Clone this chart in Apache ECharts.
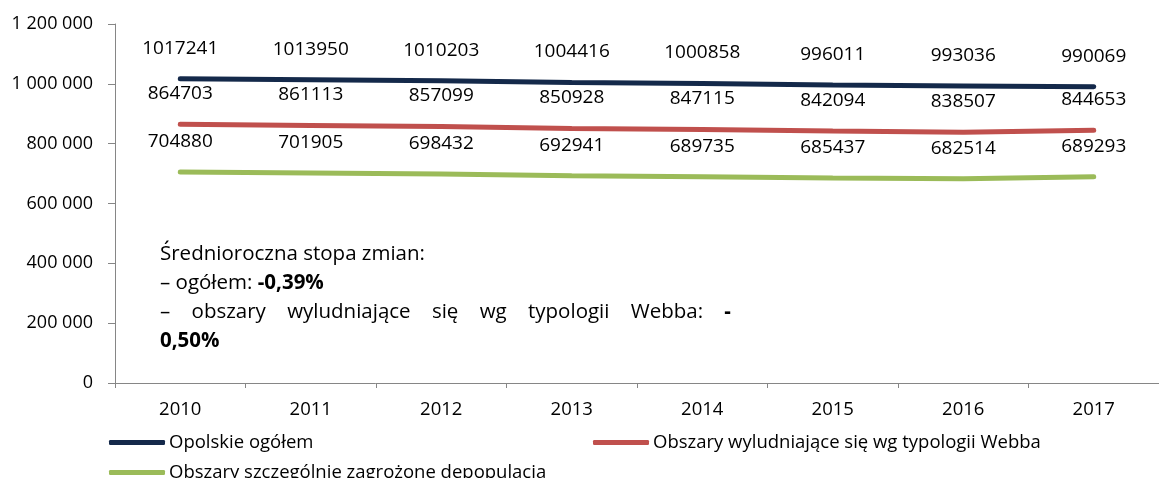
<!DOCTYPE html>
<html>
<head>
<meta charset="utf-8">
<script src="https://cdn.jsdelivr.net/npm/echarts@6/dist/echarts.min.js"></script>
<style>
  html, body { margin: 0; padding: 0; background: #fff; }
  #main { width: 1159px; height: 478px; }
</style>
</head>
<body>
<div id="main"></div>
<script>
// lata
var years = ['2010', '2011', '2012', '2013', '2014', '2015', '2016', '2017'];

// ludność
var opolskie = [1017241, 1013950, 1010203, 1004416, 1000858, 996011, 993036, 990069];
var webba = [864703, 861113, 857099, 850928, 847115, 842094, 838507, 844653];
var depopulacja = [704880, 701905, 698432, 692941, 689735, 685437, 682514, 689293];

var seriesNames = ['Opolskie ogółem', 'Obszary wyludniające się wg typologii Webba', 'Obszary szczególnie zagrożone depopulacją'];
var colors = ['#14294a', '#c0504d', '#9bbb59'];

var font = '"Open Sans", "Noto Sans", sans-serif';

function makeSeries(name, data, color) {
    return {
        name: name,
        type: 'line',
        data: data,
        symbol: 'circle',
        symbolSize: 0,
        showSymbol: true,
        lineStyle: { width: 5, color: color, cap: 'round' },
        itemStyle: { color: color },
        label: {
            show: true,
            position: 'top',
            distance: 21,
            color: '#000',
            fontSize: 19,
            fontFamily: font
        },
        emphasis: { disabled: true }
    };
}

function legendAt(left, top, name) {
    return {
        left: left,
        top: top,
        data: [name],
        icon: 'roundRect',
        itemWidth: 56,
        itemHeight: 5,
        itemGap: 0,
        textStyle: { fontSize: 18.5, color: '#000', fontFamily: font, padding: [0, 0, 0, -1] }
    };
}

var option = {
    backgroundColor: '#fff',
    animation: false,
    textStyle: { fontFamily: font },
    grid: { left: 115, right: -17, top: 24, bottom: 95 },
    xAxis: {
        type: 'category',
        data: years,
        boundaryGap: true,
        axisLine: { lineStyle: { color: '#868686', width: 1 } },
        axisTick: { show: true, length: 5, lineStyle: { color: '#868686' } },
        axisLabel: { color: '#000', fontSize: 18.5, margin: 17, fontFamily: font }
    },
    yAxis: {
        type: 'value',
        min: 0,
        max: 1200000,
        interval: 200000,
        axisLine: { show: true, lineStyle: { color: '#868686', width: 1 } },
        axisTick: { show: true, length: 7, lineStyle: { color: '#868686' } },
        splitLine: { show: false },
        axisLabel: {
            color: '#000',
            fontSize: 18,
            margin: 22,
            fontFamily: font,
            formatter: function (v) {
                return String(v).replace(/\B(?=(\d{3})+(?!\d))/g, ' ');
            }
        }
    },
    legend: [
        legendAt(104, 428, seriesNames[0]),
        legendAt(588, 428, seriesNames[1]),
        legendAt(104, 458, seriesNames[2])
    ],
    graphic: [{
        type: 'text',
        left: 160,
        top: 240,
        style: {
            text: 'Średnioroczna stopa zmian:\n– ogółem: {b|-0,39%}\n–    obszary    wyludniające    się    wg    typologii    Webba:    {b|-}\n{b|0,50%}',
            fontSize: 20.5,
            lineHeight: 29,
            fill: '#000',
            fontFamily: font,
            rich: {
                b: { fontWeight: 'bold', fontSize: 20.5, lineHeight: 29, fontFamily: font }
            }
        }
    }],
    series: [
        makeSeries(seriesNames[0], opolskie, colors[0]),
        makeSeries(seriesNames[1], webba, colors[1]),
        makeSeries(seriesNames[2], depopulacja, colors[2])
    ]
};

var myChart = echarts.init(document.getElementById('main'));
myChart.setOption(option);
</script>
</body>
</html>
